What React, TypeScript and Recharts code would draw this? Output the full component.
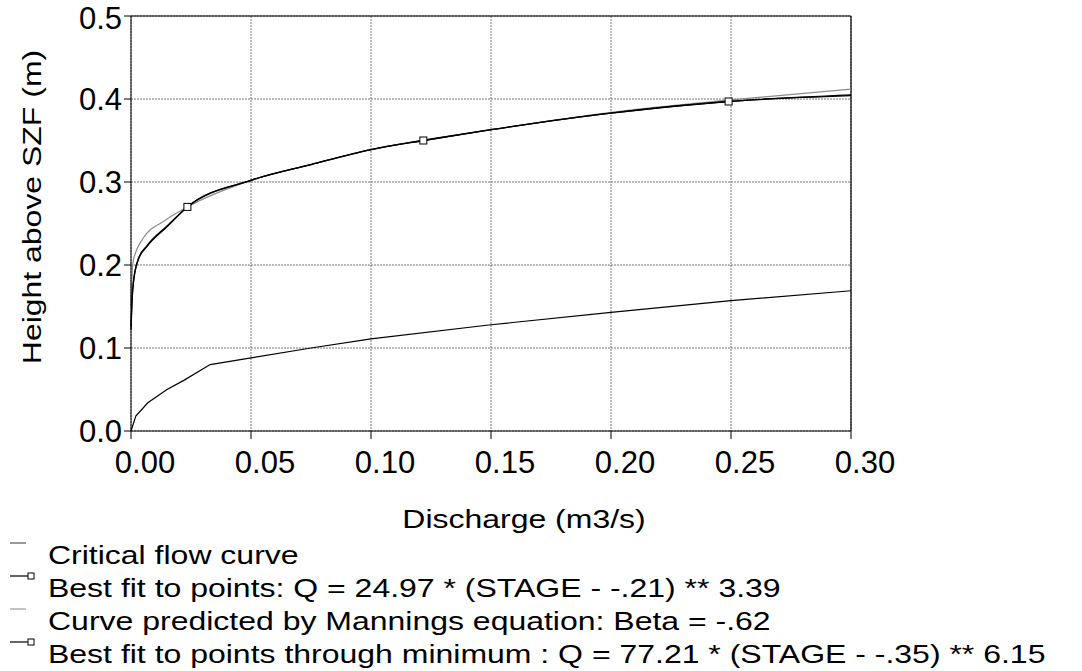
import { CartesianGrid, ComposedChart, Line, ReferenceLine, Scatter, XAxis, YAxis } from 'recharts';

const xTicks = [0, 0.05, 0.1, 0.15, 0.2, 0.25, 0.3];
const yTicks = [0, 0.1, 0.2, 0.3, 0.4, 0.5];

// lower curve
const criticalQ = [0, 0.002, 0.007, 0.015, 0.022, 0.033, 0.05, 0.075, 0.1, 0.15, 0.2, 0.25, 0.3];
const criticalH = [0, 0.018, 0.034, 0.05, 0.061, 0.08, 0.088, 0.1, 0.111, 0.128, 0.143, 0.157, 0.169];

// upper curves
const bestFitQ = [0, 0.0005, 0.001, 0.003, 0.0066, 0.015, 0.0235, 0.05, 0.075, 0.1, 0.1218, 0.15, 0.2, 0.249, 0.3];
const bestFitH = [0.122, 0.16, 0.178, 0.206, 0.222, 0.246, 0.27, 0.302, 0.321, 0.339, 0.35, 0.363, 0.383, 0.397, 0.405];

const manningQ = [0, 0.0003, 0.001, 0.005, 0.0135, 0.0235, 0.05, 0.075, 0.1, 0.15, 0.2, 0.25, 0.3];
const manningH = [0.15, 0.18, 0.206, 0.232, 0.2525, 0.27, 0.302, 0.321, 0.339, 0.363, 0.384, 0.399, 0.412];

const minFitQ = [0, 0.0005, 0.001, 0.003, 0.0066, 0.015, 0.0235, 0.05, 0.075, 0.1, 0.1218, 0.15, 0.2, 0.249, 0.3];
const minFitH = [0.126, 0.162, 0.18, 0.207, 0.223, 0.247, 0.27, 0.302, 0.321, 0.339, 0.35, 0.363, 0.383, 0.397, 0.404];

// measured points
const obsQ = [0.0235, 0.1218, 0.249];
const obsH = [0.27, 0.35, 0.397];

const legendItems = [
  { label: 'Critical flow curve', color: '#555', marker: false },
  { label: 'Best fit to points: Q = 24.97 * (STAGE - -.21) ** 3.39', color: '#000', marker: true },
  { label: 'Curve predicted by Mannings equation: Beta = -.62', color: '#999', marker: false },
  { label: 'Best fit to points through minimum : Q = 77.21 * (STAGE - -.35) ** 6.15', color: '#000', marker: true },
];

const pts = (q: number[], h: number[]) => q.map((x, i) => ({ q: x, h: h[i] }));

const FONT = '"Liberation Sans", Arial, Helvetica, sans-serif';
// titles/legend in the original are a bit wider than plain Helvetica
const TITLE_SIZE = 26;
const STRETCH = 1.23;

function Square(props: any) {
  const { cx, cy } = props;
  return <rect x={cx - 3.5} y={cy - 3.5} width={7} height={7} fill="#fff" stroke="#000" strokeWidth={1} />;
}

function XTick(props: any) {
  const { x, y, payload } = props;
  return (
    <text x={x + 14} y={y} dy="0.71em" textAnchor="middle" fontSize={31} fill="#000" fontFamily={FONT}>
      {Number(payload.value).toFixed(2)}
    </text>
  );
}

export default function App() {
  return (
    <div style={{ position: 'absolute', left: 0, top: 0, width: 1082, height: 671, background: '#fff', fontFamily: FONT, overflow: 'hidden' }}>
      <ComposedChart width={1082} height={671} margin={{ top: 16, right: 231, left: 0, bottom: 0 }}>
        <CartesianGrid stroke="#777" strokeDasharray="2 1" />
        <XAxis
          dataKey="q"
          type="number"
          domain={[0, 0.3]}
          ticks={xTicks}
          height={240}
          tickSize={8}
          tickMargin={12}
          stroke="#000"
          tick={<XTick />}
          label={{
            content: () => (
              <text
                transform={`translate(524 528) scale(${STRETCH} 1)`}
                textAnchor="middle"
                fontSize={TITLE_SIZE}
                fill="#000"
                fontFamily={FONT}
              >
                Discharge (m3/s)
              </text>
            ),
          }}
        />
        <YAxis
          dataKey="h"
          type="number"
          domain={[0, 0.5]}
          ticks={yTicks}
          width={131}
          tickSize={7}
          tickMargin={2}
          stroke="#000"
          tick={{ fontSize: 31, fill: '#000', fontFamily: FONT }}
          tickFormatter={(v: number) => v.toFixed(1)}
          label={{
            content: () => (
              <text
                transform={`translate(41 207) rotate(-90) scale(${STRETCH} 1)`}
                textAnchor="middle"
                fontSize={TITLE_SIZE}
                fill="#000"
                fontFamily={FONT}
              >
                Height above SZF (m)
              </text>
            ),
          }}
        />
        <ReferenceLine y={0.5} stroke="#000" strokeWidth={1.2} />
        <ReferenceLine x={0.3} stroke="#000" strokeWidth={1.2} />
        <Line data={pts(criticalQ, criticalH)} dataKey="h" type="linear" stroke="#000" strokeWidth={1.2} dot={false} isAnimationActive={false} />
        <Line data={pts(manningQ, manningH)} dataKey="h" type="monotone" stroke="#8a8a8a" strokeWidth={1.2} dot={false} isAnimationActive={false} />
        <Line data={pts(minFitQ, minFitH)} dataKey="h" type="monotone" stroke="#000" strokeWidth={1.3} dot={false} isAnimationActive={false} />
        <Line data={pts(bestFitQ, bestFitH)} dataKey="h" type="monotone" stroke="#000" strokeWidth={1.3} dot={false} isAnimationActive={false} />
        <Scatter data={pts(obsQ, obsH)} dataKey="h" shape={<Square />} isAnimationActive={false} />
      </ComposedChart>
      <div style={{ position: 'absolute', left: 0, top: 539, width: 1082 }}>
        {legendItems.map((it) => (
          <div
            key={it.label}
            style={{ position: 'relative', height: 33, lineHeight: '33px', fontSize: TITLE_SIZE, color: '#000', whiteSpace: 'nowrap' }}
          >
            <svg width={40} height={12} style={{ position: 'absolute', left: 0, top: -1 }}>
              <line x1={10} y1={5} x2={it.marker ? 28 : 26} y2={5} stroke={it.color} strokeWidth={1.2} />
              {it.marker && <rect x={28} y={2} width={6} height={6} fill="#fff" stroke="#000" strokeWidth={1} />}
            </svg>
            <span
              style={{ position: 'absolute', left: 48, top: 0, display: 'inline-block', transform: `scaleX(${STRETCH})`, transformOrigin: '0 0' }}
            >
              {it.label}
            </span>
          </div>
        ))}
      </div>
    </div>
  );
}
